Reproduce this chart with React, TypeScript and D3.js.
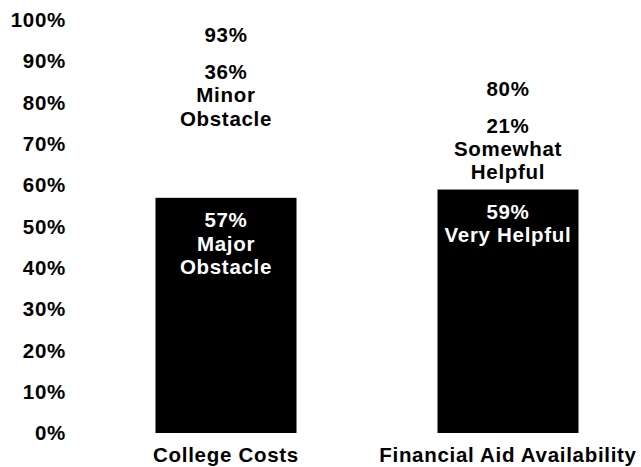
import * as d3 from "d3";

const categories = ["College Costs", "Financial Aid Availability"];
const primaryValues = [57, 59];
const primaryLabels = [["Major", "Obstacle"], ["Very Helpful"]];
const secondaryValues = [36, 21];
const secondaryLabels = [["Minor", "Obstacle"], ["Somewhat", "Helpful"]];
const totals = [93, 80];
const yTicks = [0, 10, 20, 30, 40, 50, 60, 70, 80, 90, 100];

const W = 641;
const H = 467;
const FONT = "'Liberation Sans', Arial, Helvetica, sans-serif";
const LINE = 23.3;

export default function App() {
  const y = d3.scaleLinear().domain([0, 100]).range([433, 20]);
  const x = d3
    .scaleBand<string>()
    .domain(categories)
    .range([85, 649])
    .paddingInner(0.5)
    .paddingOuter(0.25);

  const textStyle = {
    fontFamily: FONT,
    fontWeight: 700,
    fontSize: 20.5,
    letterSpacing: "0.7px",
  } as const;

  return (
    <svg
      width={W}
      height={H}
      style={{ position: "absolute", left: 0, top: 0, background: "#fff" }}
    >
      {/* y axis labels */}
      {yTicks.map((t) => (
        <text
          key={t}
          x={66}
          y={y(t)}
          dy="0.35em"
          textAnchor="end"
          fill="#000"
          style={textStyle}
        >
          {t}%
        </text>
      ))}

      {categories.map((c, i) => {
        const x0 = x(c) || 0;
        const bw = x.bandwidth();
        const cx = x0 + bw / 2;
        const p = primaryValues[i];
        const s = secondaryValues[i];
        const topPrimary = y(p);
        const topSecondary = y(p + s);
        return (
          <g key={c}>
            {/* lower segment */}
            <rect x={x0} y={topPrimary} width={bw} height={y(0) - topPrimary} fill="#000" />
            {/* upper segment (unfilled) */}
            <rect x={x0} y={topSecondary} width={bw} height={topPrimary - topSecondary} fill="#fff" />

            {/* total */}
            <text x={cx} y={y(totals[i]) - 14} dy="0.35em" textAnchor="middle" fill="#000" style={textStyle}>
              {totals[i]}%
            </text>

            {/* upper segment labels */}
            {[`${s}%`, ...secondaryLabels[i]].map((t, j) => (
              <text
                key={j}
                x={cx}
                y={topSecondary + 23 + j * LINE}
                dy="0.35em"
                textAnchor="middle"
                fill="#000"
                style={textStyle}
              >
                {t}
              </text>
            ))}

            {/* lower segment labels */}
            {[`${p}%`, ...primaryLabels[i]].map((t, j) => (
              <text
                key={j}
                x={cx}
                y={topPrimary + 22.5 + j * LINE}
                dy="0.35em"
                textAnchor="middle"
                fill="#fff"
                style={textStyle}
              >
                {t}
              </text>
            ))}

            {/* category label */}
            <text x={cx} y={455} dy="0.35em" textAnchor="middle" fill="#000" style={textStyle}>
              {c}
            </text>
          </g>
        );
      })}
    </svg>
  );
}
